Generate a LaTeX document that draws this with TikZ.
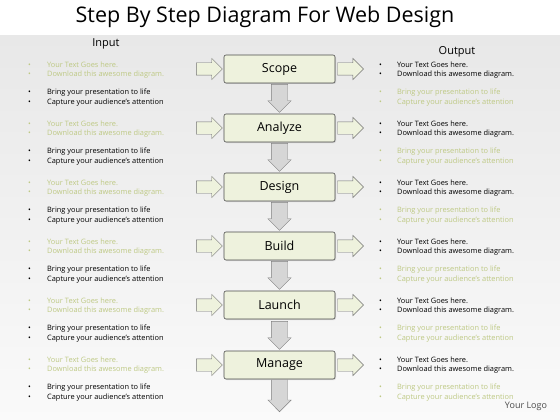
\documentclass[tikz,border=0pt]{standalone}
\usepackage{fontspec}
\setmainfont{Open Sans}
\usetikzlibrary{shapes.arrows,shadows}

\definecolor{boxfill}{RGB}{238,242,221}
\definecolor{softgreen}{RGB}{190,201,132}
\definecolor{downgrey}{RGB}{214,214,214}

\begin{document}
\begin{tikzpicture}
[x=1pt,y=-1pt,
 stepbox/.style={draw=black!70,fill=boxfill,rounded corners=2pt,line width=0.6pt,
   minimum width=111pt,minimum height=28pt,font=\fontsize{12.5}{12.5}\selectfont,
   drop shadow={opacity=0.25,shadow xshift=1pt,shadow yshift=-1pt}},
 sidearrow/.style={single arrow,draw=black!55,fill=boxfill,inner sep=6pt,
   minimum height=26pt,single arrow head extend=4.5pt},
 downarrow/.style={single arrow,draw=black!50,fill=downgrey,inner sep=8pt,
   single arrow head extend=3.5pt,shape border rotate=270},
 item/.style={anchor=west,inner sep=0pt,font=\fontsize{7.4}{7.4}\selectfont},
 head/.style={font=\fontsize{11}{11}\selectfont}]

  % page and background
  \useasboundingbox (0,0) rectangle (560,420);
  \fill[white] (0,0) rectangle (560,420);
  \shade[top color=black!9,bottom color=black!2] (0,36) rectangle (560,420);

  \node[font=\fontsize{21.5}{21.5}\selectfont] (title) at (265,17) {Step By Step Diagram For Web Design};
  \node[head] (input) at (106,44) {Input};
  \node[head] (output) at (457,52) {Output};
  \node[font=\fontsize{9}{9}\selectfont,text=black!70] (logo) at (526,406) {Your Logo};

  % steps
  \node[stepbox] (s1) at (279.5,69)  {Scope};
  \node[stepbox] (s2) at (279.5,128) {Analyze};
  \node[stepbox] (s3) at (279.5,187) {Design};
  \node[stepbox] (s4) at (279.5,246) {Build};
  \node[stepbox] (s5) at (279.5,305) {Launch};
  \node[stepbox] (s6) at (279.5,365) {Manage};
  \coordinate (end) at (279.5,412);

  % arrows in and out
  \foreach \s in {s1,s2,s3,s4,s5,s6} {
    \node[sidearrow,anchor=tip] (in\s) at ([xshift=-1pt]\s.west) {};
    \node[sidearrow,anchor=tail] (out\s) at ([xshift=2pt]\s.east) {};
  }
  \foreach \from/\to in {s1/s2, s2/s3, s3/s4, s4/s5, s5/s6}
    \node[downarrow,minimum height=28pt,anchor=tip] (d\from) at ([yshift=1pt]\to.north) {};
  \node[downarrow,minimum height=32pt,anchor=tip] (ds6) at (end) {};

  % text lists
  \foreach \k/\y in {1/69,2/128,3/187,4/246,5/305,6/364} {
    \node[item,text=softgreen] (la\k) at (28,\y-4)  {\makebox[19pt][l]{\textbullet}Your Text Goes here.};
    \node[item,text=softgreen] (lb\k) at (28,\y+6)  {\makebox[19pt][l]{\textbullet}Download this awesome diagram.};
    \node[item] (lc\k) at (28,\y+24) {\makebox[19pt][l]{\textbullet}Bring your presentation to life};
    \node[item] (ld\k) at (28,\y+34) {\makebox[19pt][l]{\textbullet}Capture your audience’s attention};
    \node[item] (ra\k) at (379,\y-4)  {\makebox[18pt][l]{\textbullet}Your Text Goes here.};
    \node[item] (rb\k) at (379,\y+6)  {\makebox[18pt][l]{\textbullet}Download this awesome diagram.};
    \node[item,text=softgreen] (rc\k) at (379,\y+24) {\makebox[18pt][l]{\textbullet}Bring your presentation to life};
    \node[item,text=softgreen] (rd\k) at (379,\y+34) {\makebox[18pt][l]{\textbullet}Capture your audience’s attention};
  }

\end{tikzpicture}
\end{document}
